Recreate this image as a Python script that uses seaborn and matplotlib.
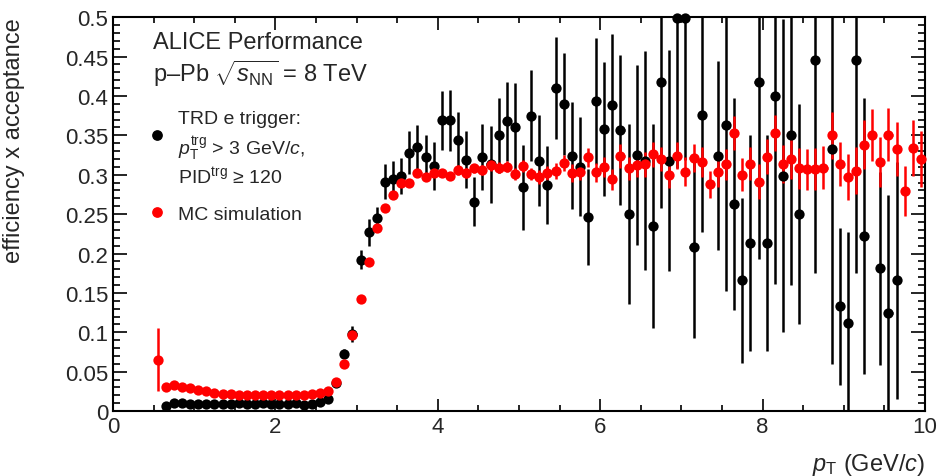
import numpy as np
import pandas as pd
import matplotlib
matplotlib.use("Agg")
import matplotlib.pyplot as plt
import seaborn as sns
from matplotlib.ticker import MultipleLocator, FormatStrFormatter

# MC simulation (red), bin centres in GeV/c
mc_pt = [0.55, 0.65, 0.75, 0.85, 0.95, 1.05, 1.15, 1.25, 1.35, 1.45,
         1.55, 1.65, 1.75, 1.85, 1.95, 2.05, 2.15, 2.25, 2.35, 2.45,
         2.55, 2.65, 2.75, 2.85, 2.95, 3.05, 3.15, 3.25, 3.35, 3.45,
         3.55, 3.65, 3.75, 3.85, 3.95, 4.05, 4.15, 4.25, 4.35, 4.45,
         4.55, 4.65, 4.75, 4.85, 4.95, 5.05, 5.15, 5.25, 5.35, 5.45,
         5.55, 5.65, 5.75, 5.85, 5.95, 6.05, 6.15, 6.25, 6.35, 6.45,
         6.55, 6.65, 6.75, 6.85, 6.95, 7.05, 7.15, 7.25, 7.35, 7.45,
         7.55, 7.65, 7.75, 7.85, 7.95, 8.05, 8.15, 8.25, 8.35, 8.45,
         8.55, 8.65, 8.75, 8.85, 8.95, 9.05, 9.15, 9.25, 9.35, 9.45,
         9.55, 9.65, 9.75, 9.85, 9.95]
mc_eff = [0.065, 0.031, 0.033, 0.031, 0.029, 0.027, 0.025, 0.023, 0.022, 0.022,
          0.021, 0.021, 0.021, 0.021, 0.021, 0.021, 0.021, 0.021, 0.021, 0.022,
          0.023, 0.025, 0.037, 0.060, 0.097, 0.142, 0.189, 0.232, 0.258, 0.274,
          0.290, 0.289, 0.302, 0.297, 0.302, 0.302, 0.298, 0.306, 0.302, 0.308,
          0.306, 0.312, 0.309, 0.310, 0.301, 0.311, 0.301, 0.297, 0.302, 0.305,
          0.315, 0.302, 0.304, 0.322, 0.303, 0.310, 0.294, 0.324, 0.308, 0.312,
          0.313, 0.326, 0.320, 0.300, 0.324, 0.304, 0.321, 0.316, 0.288, 0.304,
          0.313, 0.353, 0.300, 0.314, 0.291, 0.323, 0.353, 0.314, 0.320, 0.308,
          0.307, 0.307, 0.309, 0.350, 0.314, 0.297, 0.305, 0.338, 0.351, 0.316,
          0.351, 0.333, 0.279, 0.334, 0.320]
mc_err = [0.040, 0.002, 0.002, 0.002, 0.002, 0.002, 0.002, 0.002, 0.002, 0.002,
          0.002, 0.002, 0.002, 0.002, 0.002, 0.002, 0.002, 0.002, 0.002, 0.002,
          0.002, 0.002, 0.002, 0.003, 0.003, 0.003, 0.003, 0.003, 0.004, 0.004,
          0.004, 0.004, 0.005, 0.005, 0.005, 0.005, 0.005, 0.006, 0.006, 0.006,
          0.006, 0.007, 0.007, 0.007, 0.008, 0.008, 0.008, 0.009, 0.009, 0.010,
          0.010, 0.011, 0.011, 0.012, 0.012, 0.013, 0.013, 0.015, 0.015, 0.015,
          0.016, 0.016, 0.015, 0.017, 0.017, 0.018, 0.018, 0.019, 0.017, 0.019,
          0.020, 0.022, 0.021, 0.021, 0.022, 0.022, 0.023, 0.024, 0.025, 0.026,
          0.026, 0.027, 0.027, 0.030, 0.028, 0.029, 0.030, 0.031, 0.033, 0.032,
          0.034, 0.034, 0.032, 0.036, 0.035]

# TRD e trigger data (black)
trd_pt = [0.65, 0.75, 0.85, 0.95, 1.05, 1.15, 1.25, 1.35, 1.45, 1.55,
          1.65, 1.75, 1.85, 1.95, 2.05, 2.15, 2.25, 2.35, 2.45, 2.55,
          2.65, 2.75, 2.85, 2.95, 3.05, 3.15, 3.25, 3.35, 3.45, 3.55,
          3.65, 3.75, 3.85, 3.95, 4.05, 4.15, 4.25, 4.35, 4.45, 4.55,
          4.65, 4.75, 4.85, 4.95, 5.05, 5.15, 5.25, 5.35, 5.45, 5.55,
          5.65, 5.75, 5.85, 5.95, 6.05, 6.15, 6.25, 6.35, 6.45, 6.55,
          6.65, 6.75, 6.85, 6.95, 7.05, 7.15, 7.25, 7.45, 7.55, 7.65,
          7.75, 7.85, 7.95, 8.05, 8.15, 8.25, 8.35, 8.45, 8.65, 8.85,
          8.95, 9.05, 9.15, 9.25, 9.45, 9.55, 9.65]
trd_eff = [0.006, 0.010, 0.010, 0.009, 0.009, 0.009, 0.009, 0.009, 0.009, 0.010,
           0.009, 0.009, 0.010, 0.009, 0.009, 0.009, 0.010, 0.008, 0.009, 0.012,
           0.016, 0.036, 0.073, 0.098, 0.192, 0.227, 0.245, 0.291, 0.295, 0.298,
           0.328, 0.335, 0.323, 0.311, 0.369, 0.369, 0.344, 0.319, 0.266, 0.323,
           0.313, 0.350, 0.368, 0.361, 0.284, 0.375, 0.318, 0.287, 0.410, 0.390,
           0.324, 0.310, 0.246, 0.393, 0.358, 0.388, 0.357, 0.250, 0.325, 0.318,
           0.235, 0.418, 0.318, 0.499, 0.499, 0.208, 0.376, 0.324, 0.363, 0.263,
           0.166, 0.213, 0.418, 0.213, 0.400, 0.299, 0.350, 0.250, 0.445, 0.333,
           0.133, 0.112, 0.445, 0.222, 0.181, 0.124, 0.166]
trd_err = [0.002, 0.002, 0.002, 0.002, 0.002, 0.002, 0.002, 0.002, 0.002, 0.002,
           0.002, 0.002, 0.002, 0.002, 0.002, 0.002, 0.002, 0.002, 0.002, 0.003,
           0.003, 0.004, 0.006, 0.010, 0.012, 0.017, 0.014, 0.022, 0.022, 0.023,
           0.027, 0.028, 0.028, 0.030, 0.037, 0.039, 0.036, 0.036, 0.031, 0.042,
           0.049, 0.048, 0.050, 0.056, 0.054, 0.058, 0.058, 0.050, 0.065, 0.065,
           0.068, 0.063, 0.061, 0.080, 0.085, 0.090, 0.095, 0.114, 0.114, 0.139,
           0.130, 0.160, 0.140, 0.190, 0.180, 0.115, 0.149, 0.120, 0.210, 0.135,
           0.105, 0.137, 0.225, 0.137, 0.239, 0.198, 0.190, 0.140, 0.270, 0.273,
           0.100, 0.115, 0.270, 0.175, 0.122, 0.150, 0.150]

trd = pd.DataFrame({"pt": trd_pt, "eff": trd_eff, "err": trd_err})
mc = pd.DataFrame({"pt": mc_pt, "eff": mc_eff, "err": mc_err})

sns.set_style("ticks")
plt.rcParams["font.family"] = ["Liberation Sans", "DejaVu Sans"]
plt.rcParams["mathtext.fontset"] = "custom"
plt.rcParams["mathtext.rm"] = "Liberation Sans"
plt.rcParams["mathtext.it"] = "Liberation Sans:italic"
plt.rcParams["mathtext.bf"] = "Liberation Sans:bold"

fig = plt.figure(figsize=(9.41, 4.77), dpi=100)
ax = fig.add_axes([0.120, 0.136, 0.863, 0.826])

# black: data, red: MC on top
for df, col in [(trd, "black"), (mc, "red")]:
    ax.errorbar(df["pt"], df["eff"], yerr=df["err"], xerr=0.05, fmt="none",
                ecolor=col, elinewidth=1.8, capsize=0, zorder=2)
    sns.scatterplot(data=df, x="pt", y="eff", color=col, s=55, linewidth=0,
                    marker="o", ax=ax, zorder=3, clip_on=False, legend=False)

ax.set_xlim(0, 10)
ax.set_ylim(0, 0.5)
ax.xaxis.set_major_locator(MultipleLocator(2))
ax.xaxis.set_minor_locator(MultipleLocator(0.5))
ax.yaxis.set_major_locator(MultipleLocator(0.05))
ax.yaxis.set_minor_locator(MultipleLocator(0.01))
ax.yaxis.set_major_formatter(FormatStrFormatter("%g"))
ax.xaxis.set_major_formatter(FormatStrFormatter("%g"))
ax.tick_params(axis="both", which="both", direction="in", top=True, right=True,
               labelsize=16, width=1.2, color="black")
ax.tick_params(axis="x", which="major", length=9)
ax.tick_params(axis="x", which="minor", length=4.5)
ax.tick_params(axis="y", which="major", length=10)
ax.tick_params(axis="y", which="minor", length=5)
for sp in ax.spines.values():
    sp.set_linewidth(1.5)
    sp.set_color("black")

ax.set_xlabel(r"$p_{\rm T}$ (GeV/$c$)", fontsize=17, loc="right")
ax.xaxis.set_label_coords(1.0, -0.10)
ax.set_ylabel("efficiency x acceptance", fontsize=17, loc="top")
ax.yaxis.set_label_coords(-0.108, 1.0)

ax.text(0.049, 0.921, "ALICE Performance", transform=ax.transAxes,
        fontsize=17, va="baseline")
ax.text(0.049, 0.838, r"p–Pb $\sqrt{s_{\rm NN}}$ = 8 TeV", transform=ax.transAxes,
        fontsize=17, va="baseline")

# legend
ax.scatter([0.054], [0.70], s=45, color="black", transform=ax.transAxes, clip_on=False)
ax.scatter([0.054], [0.506], s=45, color="red", transform=ax.transAxes, clip_on=False)
ax.text(0.080, 0.731, "TRD e trigger:", transform=ax.transAxes, fontsize=14, va="baseline")
ax.text(0.080, 0.652, r"$p_{\rm T}^{\rm trg}$ > 3 GeV/$c$,", transform=ax.transAxes,
        fontsize=14, va="baseline")
ax.text(0.080, 0.579, r"PID$^{\rm trg}$ ≥ 120", transform=ax.transAxes,
        fontsize=14, va="baseline")
ax.text(0.080, 0.487, "MC simulation", transform=ax.transAxes, fontsize=14, va="baseline")

fig.savefig("out.png", dpi=100)
